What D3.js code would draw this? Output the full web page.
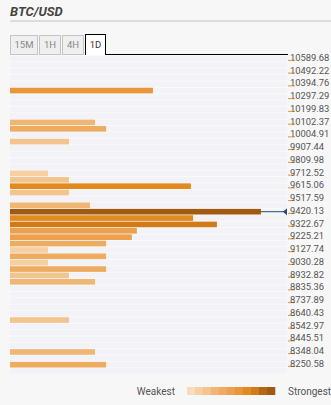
<!DOCTYPE html>
<html>
<head>
<meta charset="utf-8">
<script src="https://cdn.jsdelivr.net/npm/d3@7/dist/d3.min.js"></script>
<style>
  html, body { margin: 0; padding: 0; background: #f7f7f7; }
  svg { display: block; font-family: Roboto, "Liberation Sans", Arial, sans-serif; }
</style>
</head>
<body>
<svg id="chart" width="331" height="405"></svg>
<script>
// Price axis labels (top to bottom)
const tickLabels = ["10589.68","10492.22","10394.76","10297.29","10199.83","10102.37",
  "10004.91","9907.44","9809.98","9712.52","9615.06","9517.59","9420.13","9322.67",
  "9225.21","9127.74","9030.28","8932.82","8835.36","8737.89","8640.43","8542.97",
  "8445.51","8348.04","8250.58"];

// Price levels shown as rows (two rows per axis step), top to bottom
const levelPrices = [10589.68,10540.95,10492.22,10443.49,10394.76,10346.03,10297.29,10248.56,
  10199.83,10151.10,10102.37,10053.64,10004.91,9956.17,9907.44,9858.71,9809.98,9761.25,
  9712.52,9663.79,9615.06,9566.33,9517.59,9468.86,9420.13,9371.40,9322.67,9273.94,
  9225.21,9176.48,9127.74,9079.01,9030.28,8981.55,8932.82,8884.09,8835.36,8786.63,
  8737.89,8689.16,8640.43,8591.70,8542.97,8494.24,8445.51,8396.78,8348.04,8299.31,
  8250.58,8201.85];

// Confluence strength (0-100) at each level that has one
const barPrices   = [10346.03,10102.37,10053.64,9956.17,9712.52,9663.79,9615.06,9566.33,
  9468.86,9420.13,9371.40,9322.67,9273.94,9225.21,9176.48,9127.74,9079.01,9030.28,
  8981.55,8932.82,8884.09,8591.70,8348.04,8250.58];
const barStrength = [51.6,30.7,34.7,21.3,13.7,21.3,65.3,21.3,
  28.9,90.6,66.1,74.7,45.8,44.0,34.7,13.7,34.7,13.7,
  34.7,21.3,30.7,21.3,30.7,34.7];

const currentPrice = 9420.13;

// Strength colour steps, weakest to strongest
const legendColors = ["#f9dcbc","#f6cfa2","#f3c48e","#f0b774","#eeac60","#eba14d",
  "#e8963a","#e38a1f","#d27a17","#b86614","#a15b11"];

const svg = d3.select("#chart");
const W = 331;
const plotLeft = 10, plotRight = 287, plotTop = 55.5, rowH = 6.375;

// Title
svg.append("text").attr("x", 10).attr("y", 16)
  .attr("font-size", 13).attr("font-weight", "bold").attr("font-style", "italic")
  .attr("fill", "#444").text("BTC/USD");
svg.append("rect").attr("x", 10).attr("y", 20).attr("width", W - 10).attr("height", 2)
  .attr("fill", "#dcdcdc");

// Timeframe tabs
const tabs = [
  {label: "15M", x0: 10.5, x1: 37.5, active: false},
  {label: "1H",  x0: 39.5, x1: 60.5, active: false},
  {label: "4H",  x0: 62.5, x1: 83.5, active: false},
  {label: "1D",  x0: 85.5, x1: 105.5, active: true}
];
const tabG = svg.append("g");
tabs.forEach(t => {
  tabG.append("rect").attr("x", t.x0).attr("y", t.active ? 34.5 : 35.5)
    .attr("width", t.x1 - t.x0).attr("height", t.active ? 20 : 19)
    .attr("fill", t.active ? "#fff" : "#efefef")
    .attr("stroke", t.active ? "#000" : "#c4c4c4").attr("stroke-width", 1);
  tabG.append("text").attr("x", (t.x0 + t.x1) / 2).attr("y", 48)
    .attr("text-anchor", "middle").attr("font-size", 9.5)
    .attr("fill", t.active ? "#333" : "#888").text(t.label);
});
// hide the active tab's bottom edge
tabG.append("rect").attr("x", 86).attr("y", 53.5).attr("width", 19).attr("height", 2).attr("fill", "#fff");
svg.append("line").attr("x1", 105.5).attr("x2", 288).attr("y1", 54.5).attr("y2", 54.5)
  .attr("stroke", "#000").attr("stroke-width", 1);

// Scales
const y = d3.scaleBand().domain(levelPrices).range([plotTop, plotTop + rowH * levelPrices.length])
  .paddingInner(0.12).paddingOuter(0.06);
const x = d3.scaleLinear().domain([0, 100]).range([plotLeft, plotRight]);
const color = d3.scaleQuantize().domain([0, 92]).range(legendColors);

// Chart area
svg.append("rect").attr("x", plotLeft).attr("y", plotTop).attr("width", plotRight - plotLeft)
  .attr("height", rowH * levelPrices.length).attr("fill", "#fcfcfc");
svg.append("g").selectAll("rect").data(levelPrices).join("rect")
  .attr("x", plotLeft).attr("y", d => y(d)).attr("width", plotRight - plotLeft)
  .attr("height", y.bandwidth()).attr("fill", "#f2f2f7");

// Bars
const bars = barPrices.map((p, i) => ({price: p, strength: barStrength[i]}));
svg.append("g").selectAll("rect").data(bars).join("rect")
  .attr("x", x(0)).attr("y", d => y(d.price))
  .attr("width", d => x(d.strength) - x(0)).attr("height", y.bandwidth())
  .attr("fill", d => color(d.strength));

// Current price marker
const cur = bars.find(b => b.price === currentPrice);
const cy = y(currentPrice) + y.bandwidth() / 2;
svg.append("line").attr("x1", x(cur.strength)).attr("x2", plotRight).attr("y1", cy).attr("y2", cy)
  .attr("stroke", "#2b4a6e").attr("stroke-width", 1);
svg.append("path").attr("d", `M${plotRight - 4},${cy} L${plotRight},${cy - 3.5} L${plotRight},${cy + 3.5} Z`)
  .attr("fill", "#2b4a6e");

// Price axis
const axisG = svg.append("g");
tickLabels.forEach((lab, k) => {
  const ty = y(levelPrices[2 * k]) + y.bandwidth() * 0.8;
  axisG.append("line").attr("x1", 288).attr("x2", 295).attr("y1", ty).attr("y2", ty)
    .attr("stroke", "#e8912d").attr("stroke-width", 1);
  axisG.append("text").attr("x", 290).attr("y", ty + 0.5).attr("font-size", 9.4)
    .attr("fill", "#555").text(lab);
});

// Legend
const lg = svg.append("g");
const lx = d3.scaleBand().domain(d3.range(legendColors.length)).range([187, 275]);
lg.selectAll("rect").data(legendColors).join("rect")
  .attr("x", (d, i) => lx(i)).attr("y", 387).attr("width", lx.bandwidth() + 0.3).attr("height", 8)
  .attr("fill", d => d);
lg.append("text").attr("x", 175).attr("y", 395).attr("text-anchor", "end")
  .attr("font-size", 10).attr("fill", "#555").text("Weakest");
lg.append("text").attr("x", 288).attr("y", 395)
  .attr("font-size", 10).attr("fill", "#555").text("Strongest");
</script>
</body>
</html>
